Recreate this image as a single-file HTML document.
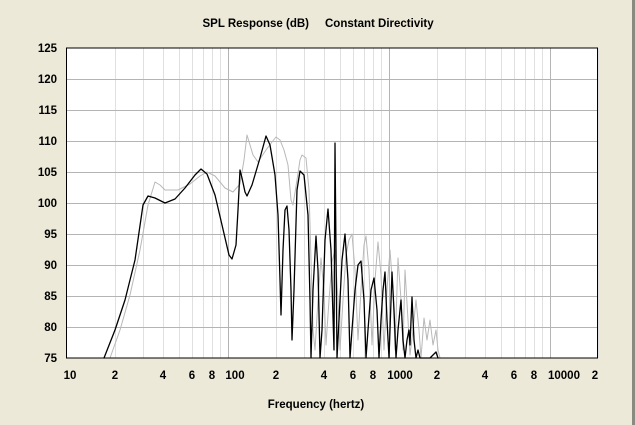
<!DOCTYPE html>
<html><head><style>
body{margin:0;background:#ece9d8;}
svg{display:block;font-family:"Liberation Sans",sans-serif;font-weight:bold;font-size:11.5px;}
</style></head><body>
<svg width="635" height="425" viewBox="0 0 635 425">
<rect width="635" height="425" fill="#ece9d8"/>
<rect x="632" y="0" width="3" height="425" fill="#8a8a80"/>
<rect x="66.5" y="48" width="531" height="310" fill="#fff"/>
<g stroke="#e2e2e2" stroke-width="1" id="minor"></g>
<g id="grid"></g>
<text x="309" y="27" text-anchor="end">SPL Response (dB)</text>
<text x="325" y="27">Constant Directivity</text>
<g text-anchor="end" id="ylab"></g>
<g text-anchor="middle" id="xlab">
<text x="70" y="379">10</text><text x="115" y="379">2</text><text x="163" y="379">4</text><text x="192" y="379">6</text><text x="212" y="379">8</text><text x="235" y="379">100</text>
<text x="276" y="379">2</text><text x="324" y="379">4</text><text x="353" y="379">6</text><text x="373" y="379">8</text><text x="400" y="379">1000</text>
<text x="437" y="379">2</text><text x="485" y="379">4</text><text x="514" y="379">6</text><text x="534" y="379">8</text><text x="564" y="379">10000</text><text x="595" y="379">2</text>
</g>
<text x="316" y="408" text-anchor="middle">Frequency (hertz)</text>
<polyline fill="none" stroke="#b8b8b8" stroke-width="1" stroke-linejoin="round" points="110,358 120,330 130,295 140,250 148,205 155,182 160,185 165,190 178,190 190,184 200,176 207,172 215,176 225,188 233,192 240,184 244,160 247,135 250,145 253,155 258,162 266,150 272,142 276,137 280,140 284,150 288,165 291,200 293,205 297,180 300,160 302,155 306,158 309,190 311,260 313,330 315,350 318,300 321,258 324,292 326,345 329,300 332,262 335,250 338,300 340,350 343,300 346,255 349,240 352,234 355,270 358,340 361,290 364,245 366,236 369,270 372,345 375,280 378,242 381,275 384,350 387,290 390,250 393,290 395,350 398,258 401,300 403,350 405,270 408,320 410,355 413,330 416,300 419,330 421,358 424,318 427,340 430,320 433,345 436,330 438,350 440,358"/>
<polyline fill="none" stroke="#000" stroke-width="1.3" stroke-linejoin="round" stroke-linecap="round" points="104,358 115,330 125,300 135,260 143,205 148,196 155,198 165,203 175,199 185,188 195,175 201,169 207,174 215,195 222,225 229,255 232,259 236,245 238,210 240,170 242,178 245,192 247,196 252,185 260,158 266,136 270,145 275,175 278,215 280,280 281,315 283,250 285,210 287,206 289,230 291,290 292,340 294,290 297,190 300,171 304,175 308,215 310,300 311,358 313,290 316,236 318,270 320,358 322,330 325,240 328,209 331,250 334,350 335,143 337,358 339,320 342,260 345,234 348,280 350,358 352,330 355,290 358,265 361,261 364,300 366,358 368,330 371,290 374,278 377,310 379,358 381,320 383,290 385,272 387,320 389,358 390,330 392,272 394,310 396,358 398,330 401,300 403,340 405,358 407,340 409,330 410,345 412,297 414,340 416,358 418,350 420,358 430,358 436,352 438,358"/>
<rect x="66.5" y="48" width="531" height="310" fill="none" stroke="#000" stroke-width="1"/>
<script>
var NS="http://www.w3.org/2000/svg";
function ln(g,x1,y1,x2,y2,c){var l=document.createElementNS(NS,"line");l.setAttribute("x1",x1);l.setAttribute("y1",y1);l.setAttribute("x2",x2);l.setAttribute("y2",y2);l.setAttribute("stroke",c);g.appendChild(l);}
var g=document.getElementById("grid"),m=document.getElementById("minor");
function X(f){return 66.5+Math.log10(f/10)*161;}
for(var d=10;d<=10000;d*=10){for(var k=2;k<=9;k++){var f=d*k;if(f>20000)break;var x=Math.round(X(f))+0.5;ln(m,x,48,x,358,"#e0e0e0");}}
[100,1000,10000].forEach(function(f){var x=Math.round(X(f))+0.5;ln(g,x,48,x,358,"#b4b4b4");});
var yl=document.getElementById("ylab");
for(var v=75;v<=125;v+=5){var y=48+(125-v)*6.2;if(v>75&&v<125)ln(g,66.5,Math.round(y)+0.5,597.5,Math.round(y)+0.5,"#b4b4b4");
var t=document.createElementNS(NS,"text");t.setAttribute("x",57);t.setAttribute("y",y+4);t.textContent=v;yl.appendChild(t);}
</script>
</svg>
</body></html>
